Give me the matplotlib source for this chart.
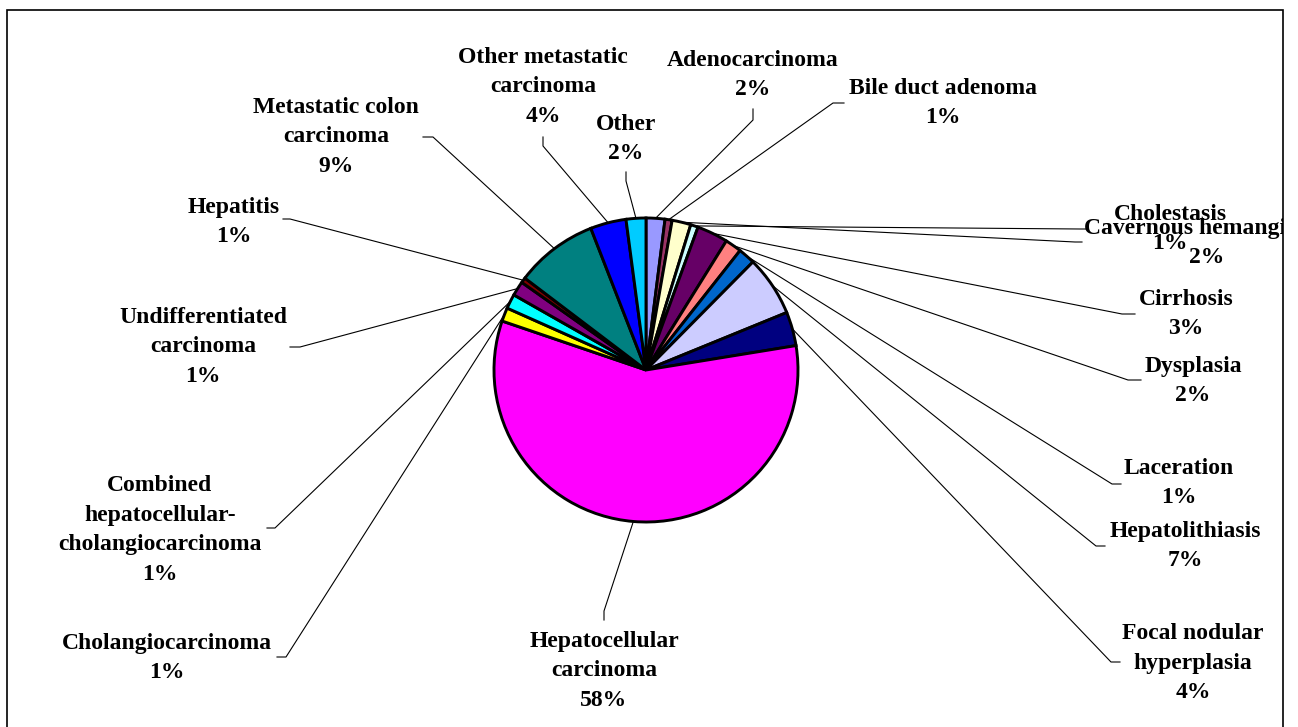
import numpy as np
import matplotlib
matplotlib.use("Agg")
import matplotlib.pyplot as plt
from matplotlib.transforms import Bbox, TransformedBbox

# ---------------- data ----------------
categories = ["Adenocarcinoma", "Bile duct adenoma", "Cavernous hemangioma", "Cholestasis",
              "Cirrhosis", "Dysplasia", "Laceration", "Hepatolithiasis",
              "Focal nodular hyperplasia", "Hepatocellular carcinoma", "Cholangiocarcinoma",
              "Combined hepatocellular-cholangiocarcinoma", "Undifferentiated carcinoma",
              "Hepatitis", "Metastatic colon carcinoma", "Other metastatic carcinoma", "Other"]
values = [2.0, 0.75, 2.0, 0.8, 3.3, 1.75, 1.8, 6.4, 3.6, 57.7, 1.45, 1.55, 1.55, 0.55,
          8.75, 3.8, 2.1]
pct_labels = ["2%", "1%", "2%", "1%", "3%", "2%", "1%", "7%", "4%", "58%", "1%", "1%",
              "1%", "1%", "9%", "4%", "2%"]
display_names = ["Adenocarcinoma", "Bile duct adenoma", "Cavernous hemangioma", "Cholestasis",
                 "Cirrhosis", "Dysplasia", "Laceration", "Hepatolithiasis",
                 "Focal nodular\nhyperplasia", "Hepatocellular\ncarcinoma", "Cholangiocarcinoma",
                 "Combined\nhepatocellular-\ncholangiocarcinoma", "Undifferentiated\ncarcinoma",
                 "Hepatitis", "Metastatic colon\ncarcinoma", "Other metastatic\ncarcinoma", "Other"]

# ---------------- style / layout ----------------
colors = ["#9999FF", "#993366", "#FFFFCC", "#CCFFFF", "#660066", "#FF8080", "#0066CC",
          "#CCCCFF", "#000080", "#FF00FF", "#FFFF00", "#00FFFF", "#800080", "#800000",
          "#008080", "#0000FF", "#00CCFF"]

W, H = 1298, 727
# label block centres (pixel coords, y from top)
label_pos = [(753, 75), (943, 103), (1207, 243), (1170, 229), (1186, 314), (1193, 381),
             (1179, 483), (1185, 546), (1193, 663), (604, 671), (167, 658), (160, 530),
             (203, 347), (234, 222), (336, 137), (543, 87), (626, 139)]
# leader line start (at label) and elbow (pixel coords)
leader_start = [(753, 109), (844, 103), (1082, 242), (1087, 229), (1135, 314), (1141, 380),
                (1121, 484), (1105, 546), (1120, 662), (604, 620), (277, 657), (267, 528),
                (290, 347), (283, 219), (423, 137), (543, 137), (626, 172)]
leader_elbow = [(753, 120), (833, 103), (1075, 242), (1080, 229), (1122, 314), (1128, 380),
                (1112, 484), (1096, 546), (1111, 662), (604, 611), (286, 657), (275, 528),
                (300, 347), (290, 219), (433, 137), (543, 146), (626, 181)]

pie_center = (646, 370)
pie_radius = 152


def fy(y):
    return H - y


fig = plt.figure(figsize=(W / 100, H / 100), dpi=100)
ax = fig.add_axes([0, 0, 1, 1])

cx, cy = pie_center[0], fy(pie_center[1])
wedges, _ = ax.pie(values, colors=colors, startangle=90, counterclock=False,
                   center=(cx, cy), radius=pie_radius,
                   wedgeprops=dict(edgecolor="black", linewidth=2.1))
ax.set_xlim(0, W)
ax.set_ylim(0, H)
ax.set_aspect("auto")
ax.axis("off")

# frame (cut at the bottom of the image)
fl, ft, fr = 7, 10, 1283
ax.plot([fl, fl, fr, fr], [0, fy(ft), fy(ft), 0], color="black", lw=1.2,
        solid_joinstyle="miter", zorder=5)
clip_box = TransformedBbox(Bbox([[fl, 0], [fr, fy(ft)]]), ax.transData)

for i, w in enumerate(wedges):
    mid = np.deg2rad((w.theta1 + w.theta2) / 2.0)
    rx = cx + pie_radius * np.cos(mid)
    ry = cy + pie_radius * np.sin(mid)
    sx, sy = leader_start[i]
    ex, ey = leader_elbow[i]
    ax.plot([sx, ex, rx], [fy(sy), fy(ey), ry], color="black", lw=0.8, zorder=0.5)
    lx, ly = label_pos[i]
    t = ax.text(lx, fy(ly), display_names[i] + "\n" + pct_labels[i], ha="center",
                va="center", multialignment="center", fontsize=17, fontweight="bold",
                family=["Liberation Serif", "DejaVu Serif"], linespacing=1.55, zorder=6)
    t.set_clip_on(True)
    t.set_clip_box(clip_box)

fig.savefig("out.png", dpi=100)
